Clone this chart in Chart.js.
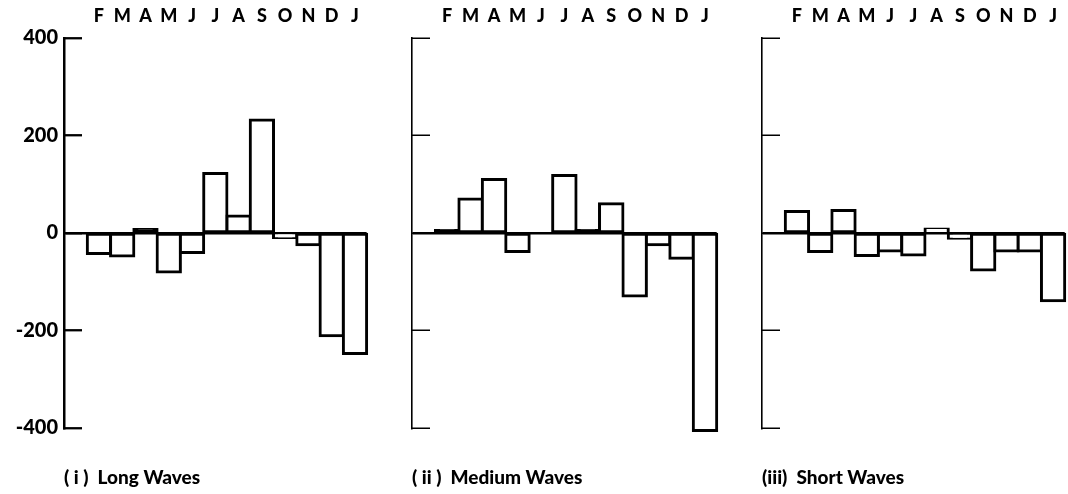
<!DOCTYPE html>
<html>
<head>
<meta charset="utf-8">
<script src="https://cdn.jsdelivr.net/npm/chart.js@4"></script>
<style>
body { margin: 0; background: #fff; width: 1068px; height: 494px; position: relative; overflow: hidden; }
.panel { position: absolute; top: 0; height: 494px; }
</style>
</head>
<body>
<div class="panel" style="left:0;width:370px"><canvas id="longWaves"></canvas></div>
<div class="panel" style="left:370px;width:350px"><canvas id="mediumWaves"></canvas></div>
<div class="panel" style="left:720px;width:348px"><canvas id="shortWaves"></canvas></div>
<script>
var months = ['F','M','A','M','J','J','A','S','O','N','D','J'];
var longWaves = [-42,-47,7,-80,-40,122,35,232,-9,-24,-211,-247];
var mediumWaves = [5,70,110,-38,0,118,5,60,-129,-24,-52,-405];
var shortWaves = [44,-38,46,-46,-37,-45,8,-11,-76,-37,-37,-139];
var yTicks = [-400,-200,0,200,400];

Chart.defaults.font.family = 'Lato';
Chart.defaults.color = '#000';

function makePanel(id, values, title, axisLeft, padRight, showLabels, axisWidth) {
    return new Chart(document.getElementById(id), {
        type: 'bar',
        data: {
            // empty slot before F, as in the original drawing
            labels: [''].concat(months),
            datasets: [{
                data: [null].concat(values),
                // very short bars read as a solid thick stroke in the original
                backgroundColor: function (c) { return Math.abs(c.raw || 0) < 8 ? '#000' : '#fff'; },
                borderColor: '#000',
                borderWidth: 3,
                borderSkipped: false,
                inflateAmount: 1.5,
                barPercentage: 1,
                categoryPercentage: 1,
                clip: false
            }]
        },
        options: {
            animation: false,
            responsive: true,
            maintainAspectRatio: false,
            layout: { padding: { left: 0, right: padRight, top: 0, bottom: 0 } },
            plugins: { legend: { display: false }, tooltip: { enabled: false } },
            scales: {
                x: {
                    position: 'top',
                    grid: { display: false, drawTicks: false },
                    border: { display: false },
                    ticks: { font: { size: 18, weight: 900 }, padding: 11, maxRotation: 0, autoSkip: false },
                    afterFit: function (s) { s.height = 38; }
                },
                x2: {
                    type: 'category',
                    position: 'bottom',
                    grid: { display: false, drawTicks: false },
                    border: { display: false },
                    ticks: { display: false },
                    title: { display: true, text: title, align: 'start', font: { size: 19, weight: 900 }, padding: { top: 0, bottom: 5 } },
                    afterFit: function (s) { s.height = 66; }
                },
                y: {
                    position: 'left',
                    min: -400,
                    max: 400,
                    afterBuildTicks: function (s) { s.ticks = yTicks.map(function (v) { return { value: v }; }); },
                    ticks: { display: showLabels, font: { size: 20, weight: 900 }, padding: 24 },
                    grid: {
                        drawOnChartArea: true,
                        color: function (c) { return c.tick && c.tick.value === 0 ? '#000' : 'rgba(0,0,0,0)'; },
                        lineWidth: 2.5,
                        drawTicks: true,
                        tickLength: -18,
                        tickColor: '#000',
                        tickWidth: showLabels ? 2.3 : 1.5
                    },
                    border: { display: true, color: '#000', width: axisWidth },
                    afterFit: function (s) { s.width = axisLeft; }
                }
            }
        }
    });
}

var longChart = makePanel('longWaves', longWaves, '( i )  Long Waves', 64, 3, true, 2.5);
var mediumChart = makePanel('mediumWaves', mediumWaves, '( ii )  Medium Waves', 42, 3, false, 1.6);
var shortChart = makePanel('shortWaves', shortWaves, '(iii)  Short Waves', 42, 1, false, 1.6);
</script>
</body>
</html>
